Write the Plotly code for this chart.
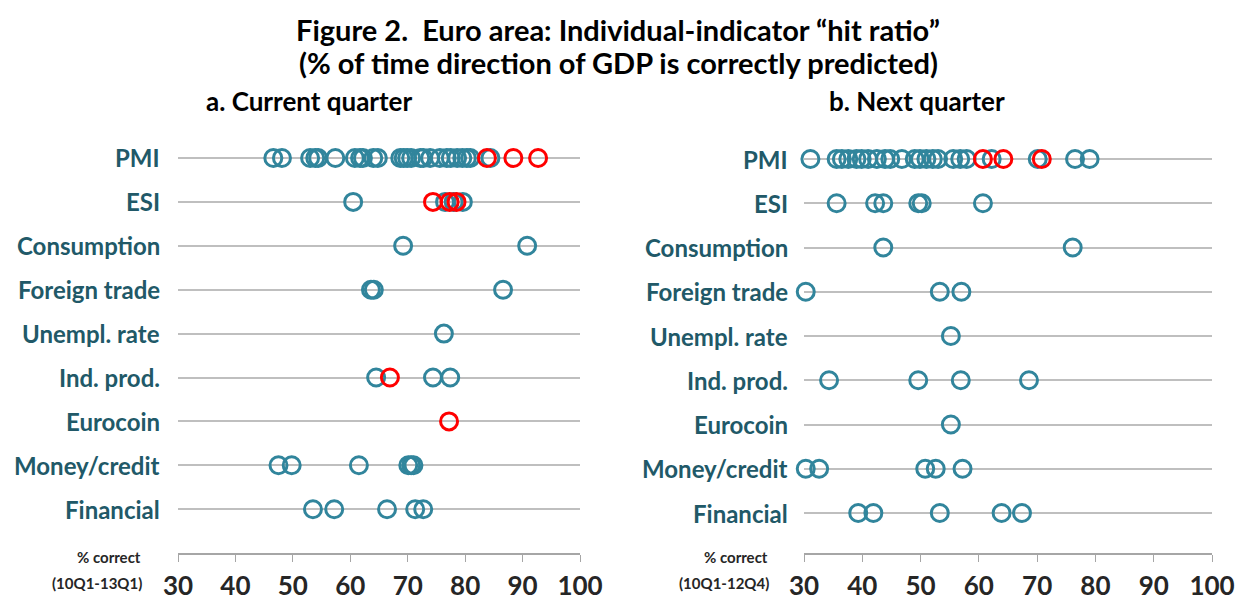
import plotly.graph_objects as go

categories = ["PMI", "ESI", "Consumption", "Foreign trade", "Unempl. rate",
              "Ind. prod.", "Eurocoin", "Money/credit", "Financial"]
tick_vals = [30, 40, 50, 60, 70, 80, 90, 100]

# Panel a: current quarter (10Q1-13Q1)
cq_teal = {
    "PMI": [46.6, 48.1, 53.0, 53.9, 54.4, 57.4, 60.8, 61.7, 62.2, 64.0, 64.8, 68.7, 69.3,
            69.9, 70.6, 72.2, 72.7, 73.9, 75.6, 76.8, 77.5, 78.6, 79.5, 80.3, 80.9, 84.4],
    "ESI": [60.5, 76.5, 78.0, 79.6],
    "Consumption": [69.2, 90.8],
    "Foreign trade": [63.6, 64.1, 86.6],
    "Unempl. rate": [76.3],
    "Ind. prod.": [64.5, 74.4, 77.4],
    "Eurocoin": [],
    "Money/credit": [47.5, 49.8, 61.5, 70.1, 70.6, 71.0],
    "Financial": [53.5, 57.2, 66.4, 71.3, 72.7],
}
cq_red = {
    "PMI": [83.8, 88.4, 92.7],
    "ESI": [74.4, 77.3, 78.5],
    "Ind. prod.": [66.9],
    "Eurocoin": [77.2],
}

# Panel b: next quarter (10Q1-12Q4)
nq_teal = {
    "PMI": [31.1, 35.6, 36.5, 37.6, 39.0, 39.9, 41.0, 42.5, 43.9, 44.8, 46.8, 49.0, 49.9,
            51.0, 52.1, 53.0, 55.6, 56.8, 57.9, 62.2, 70.1, 76.5, 79.0],
    "ESI": [35.6, 42.2, 43.6, 49.6, 50.2, 60.7],
    "Consumption": [43.6, 76.1],
    "Foreign trade": [30.3, 53.3, 57.0],
    "Unempl. rate": [55.2],
    "Ind. prod.": [34.3, 49.6, 56.9, 68.6],
    "Eurocoin": [55.2],
    "Money/credit": [30.3, 32.6, 50.8, 52.6, 57.2],
    "Financial": [39.3, 41.9, 53.3, 63.9, 67.4],
}
nq_red = {
    "PMI": [60.7, 64.2, 70.8],
}

TEAL = "#31859C"
RED = "#FF0000"
LABEL = "#215968"
FONT = "Lato, 'Open Sans', sans-serif"

W, H = 1236, 600
fig = go.Figure()

panels = [
    dict(teal=cq_teal, red=cq_red, xa="x", ya="y", xpx=(178, 580), row0=158, step=43.9,
         lab_right=162, sub="a. Current quarter", subx=309, period="(10Q1-13Q1)", px_right=143),
    dict(teal=nq_teal, red=nq_red, xa="x2", ya="y2", xpx=(804, 1212), row0=159, step=44.25,
         lab_right=790, sub="b. Next quarter", subx=917, period="(10Q1-12Q4)", px_right=770),
]

axis_bottom_px = 553
top_px = 134

for i, p in enumerate(panels):
    for cmap, col in ((p["teal"], TEAL), (p["red"], RED)):
        xs, ys = [], []
        for ci, c in enumerate(categories):
            for v in cmap.get(c, []):
                xs.append(v)
                ys.append(ci)
        fig.add_trace(go.Scatter(
            x=xs, y=ys, xaxis=p["xa"], yaxis=p["ya"], mode="markers",
            marker=dict(symbol="circle-open", size=17, color=col, line=dict(width=3, color=col)),
            cliponaxis=False, showlegend=False, hoverinfo="x+y"))
    sfx = "" if i == 0 else "2"
    x0, x1 = p["xpx"]
    ymax = (axis_bottom_px - p["row0"]) / p["step"]
    ymin = (top_px - p["row0"]) / p["step"]
    fig.layout["xaxis" + sfx] = dict(
        domain=[x0 / W, x1 / W], range=[30, 100], anchor="y" + sfx, automargin=False,
        tickvals=tick_vals, ticks="outside", ticklen=7, tickcolor="#A6A6A6",
        showline=True, linecolor="#A6A6A6", linewidth=1.5, showgrid=False, zeroline=False,
        tickfont=dict(family=FONT, size=26, color="#262626", weight="bold"),
        ticklabelstandoff=2, fixedrange=True)
    fig.layout["yaxis" + sfx] = dict(
        domain=[1 - axis_bottom_px / H, 1 - top_px / H], range=[ymax, ymin], anchor="x" + sfx,
        automargin=False,
        tickvals=list(range(len(categories))), showticklabels=False, ticks="",
        showgrid=True, gridcolor="#BFBFBF", gridwidth=1.5, zeroline=False, showline=False,
        fixedrange=True)
    for ci, c in enumerate(categories):
        fig.add_annotation(x=p["lab_right"] / W, y=1 - (p["row0"] + ci * p["step"]) / H,
                           xref="paper", yref="paper", xanchor="right", yanchor="middle",
                           text=c, showarrow=False,
                           font=dict(family=FONT, size=24, color=LABEL, weight="bold"))
    fig.add_annotation(x=p["subx"] / W, y=1 - 101 / H, xref="paper", yref="paper",
                       xanchor="center", yanchor="middle", text=p["sub"], showarrow=False,
                       font=dict(family=FONT, size=26, color="#000000", weight="bold"))
    fig.add_annotation(x=p["px_right"] / W, y=1 - 557 / H, xref="paper", yref="paper",
                       xanchor="right", yanchor="middle", text="% correct", showarrow=False,
                       font=dict(family=FONT, size=15, color="#262626", weight="bold"))
    fig.add_annotation(x=(p["px_right"] + 1) / W, y=1 - 583 / H, xref="paper", yref="paper",
                       xanchor="right", yanchor="middle", text=p["period"], showarrow=False,
                       font=dict(family=FONT, size=15, color="#262626", weight="bold"))

fig.add_annotation(x=0.5, y=1 - 29 / H, xref="paper", yref="paper", xanchor="center",
                   yanchor="middle", showarrow=False,
                   text="Figure 2.  Euro area: Individual-indicator \u201chit ratio\u201d",
                   font=dict(family=FONT, size=29, color="#000000", weight="bold"))
fig.add_annotation(x=0.5, y=1 - 63 / H, xref="paper", yref="paper", xanchor="center",
                   yanchor="middle", showarrow=False,
                   text="(% of time direction of GDP is correctly predicted)",
                   font=dict(family=FONT, size=29, color="#000000", weight="bold"))

fig.update_layout(width=W, height=H, margin=dict(l=0, r=0, t=0, b=0, autoexpand=False),
                  paper_bgcolor="white", plot_bgcolor="white", showlegend=False)

fig.write_html("out.html", config={"displayModeBar": False},
               post_script="document.body.style.margin='0px';document.body.style.overflow='hidden';")
